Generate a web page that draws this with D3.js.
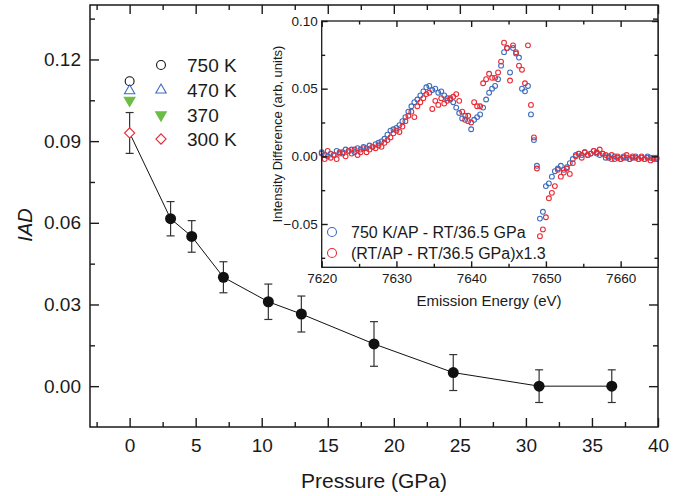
<!DOCTYPE html>
<html>
  <head>
    <meta charset="utf-8">
    <title>IAD vs pressure</title>
    <style media="screen">
      body {margin:0; background:#fff}
      text {font-family: 'Liberation Sans', Arial, sans-serif; fill:#1a1a1a}
      .axis path, .axis line {stroke:#1a1a1a}
      .axis text {fill:#1a1a1a}
    </style>
  </head>
  <body>
    <script src="https://cdn.jsdelivr.net/npm/d3@7"></script>
    <script type="text/javascript">

    // main panel: IAD against pressure (room temperature)
    const pressure = [3.1, 4.7, 7.1, 10.5, 13.0, 18.5, 24.5, 31.0, 36.5]
    const iad      = [0.0615, 0.055, 0.040, 0.031, 0.0265, 0.0155, 0.005, 0.000, 0.000]
    const iadErr   = [0.0063, 0.0058, 0.0057, 0.0065, 0.0066, 0.0082, 0.0066, 0.006, 0.006]

    // ambient pressure points at several temperatures
    const tempLabels = ['750 K', '470 K', '370', '300 K']
    const tempIAD    = [0.112, 0.1085, 0.105, 0.093]
    const ambientErr = 0.0075

    const xTicks = [0, 5, 10, 15, 20, 25, 30, 35, 40]
    const xMinor = [-2.5, 2.5, 7.5, 12.5, 17.5, 22.5, 27.5, 32.5, 37.5]
    const yTicks = [0, 0.03, 0.06, 0.09, 0.12]
    const yMinor = [0.015, 0.045, 0.075, 0.105, 0.135]

    // inset: difference spectra
    const energy = [7620, 7620.4, 7620.8, 7621.2, 7621.6, 7622, 7622.4, 7622.8, 7623.2, 7623.6,
      7624, 7624.4, 7624.8, 7625.2, 7625.6, 7626, 7626.4, 7626.8, 7627.2, 7627.6,
      7628, 7628.4, 7628.8, 7629.2, 7629.6, 7630, 7630.4, 7630.8, 7631.2, 7631.6,
      7632, 7632.4, 7632.8, 7633.2, 7633.6, 7634, 7634.4, 7634.8, 7635.2, 7635.6,
      7636, 7636.4, 7636.8, 7637.2, 7637.6, 7638, 7638.4, 7638.8, 7639.2, 7639.6,
      7640, 7640.4, 7640.8, 7641.2, 7641.6, 7642, 7642.4, 7642.8, 7643.2, 7643.6,
      7644, 7644.4, 7644.8, 7645.2, 7645.6, 7646, 7646.4, 7646.8, 7647.2, 7647.6,
      7648, 7648.4, 7648.8, 7649.2, 7649.6, 7650, 7650.4, 7650.8, 7651.2, 7651.6,
      7652, 7652.4, 7652.8, 7653.2, 7653.6, 7654, 7654.4, 7654.8, 7655.2, 7655.6,
      7656, 7656.4, 7656.8, 7657.2, 7657.6, 7658, 7658.4, 7658.8, 7659.2, 7659.6,
      7660, 7660.4, 7660.8, 7661.2, 7661.6, 7662, 7662.4, 7662.8, 7663.2, 7663.6,
      7664, 7664.4, 7664.8]

    const hotDiff = [0.003, 0.001, 0.000, 0.002, 0.001, 0.004, 0.002, 0.003, 0.005, 0.004,
      0.005, 0.003, 0.006, 0.005, 0.007, 0.006, 0.008, 0.007, 0.009, 0.010,
      0.011, 0.013, 0.016, 0.019, 0.020, 0.021, 0.023, 0.026, 0.029, 0.033,
      0.037, 0.040, 0.042, 0.045, 0.048, 0.051, 0.052, 0.049, 0.050, 0.047,
      0.048, 0.045, 0.043, 0.042, 0.040, 0.036, 0.032, 0.028, 0.030, 0.026,
      0.020, 0.027, 0.029, 0.031, 0.036, 0.042, 0.047, 0.050, 0.052, 0.057,
      0.067, 0.077, 0.080, 0.062, 0.080, 0.076, 0.073, 0.050, 0.048, 0.052,
      0.031, 0.012, -0.007, -0.046, -0.041, -0.022, -0.020, -0.015, -0.011, -0.009,
      -0.007, -0.010, -0.008, -0.005, -0.002, 0.001, 0.002, 0.001, 0.003, 0.001,
      0.002, 0.004, 0.002, 0.001, 0.002, -0.001, 0.000, -0.002, 0.000, -0.001,
      -0.002, 0.000, -0.001, -0.002, -0.001, 0.000, -0.002, -0.001, -0.002, 0.000,
      -0.001, -0.002, -0.001]

    const rtDiff = [0.002, -0.002, 0.004, -0.001, 0.001, -0.002, 0.003, 0.002, 0.000, 0.004,
      0.002, 0.005, 0.001, 0.003, 0.006, 0.003, 0.005, 0.007, 0.006, 0.008,
      0.007, 0.010, 0.012, 0.014, 0.017, 0.019, 0.018, 0.022, 0.026, 0.030,
      0.033, 0.029, 0.037, 0.040, 0.043, 0.046, 0.047, 0.035, 0.041, 0.038,
      0.043, 0.039, 0.041, 0.043, 0.044, 0.046, 0.041, 0.033, 0.027, 0.030,
      0.025, 0.040, 0.037, 0.037, 0.054, 0.057, 0.061, 0.058, 0.058, 0.062,
      0.070, 0.084, 0.080, 0.056, 0.082, 0.077, 0.067, 0.064, 0.054, 0.082,
      0.038, 0.014, -0.009, -0.059, -0.054, -0.045, -0.031, -0.027, -0.022, -0.010,
      -0.015, -0.012, -0.009, -0.013, -0.005, 0.000, 0.002, -0.001, 0.003, 0.001,
      0.002, 0.004, 0.003, 0.005, 0.002, 0.001, -0.001, 0.001, -0.002, 0.000,
      -0.002, -0.001, 0.001, -0.002, 0.000, -0.001, -0.002, 0.000, -0.002, -0.001,
      -0.003, -0.001, -0.002]

    const insetLabels = ['750 K/AP - RT/36.5 GPa', '(RT/AP - RT/36.5 GPa)x1.3']
    const insetXTicks = [7620, 7630, 7640, 7650, 7660]
    const insetXMinor = [7625, 7635, 7645, 7655]
    const insetYTicks = [-0.05, 0, 0.05, 0.10]
    const insetYMinor = [-0.075, -0.025, 0.025, 0.075]

    const blue = '#3c6cbf', red = '#ea2a33', green = '#6bbd45'

    const svg = d3.select('body').append('svg')
      .attr('width', 685)
      .attr('height', 496)

    const x = d3.scaleLinear().domain([-3, 40]).range([90, 658])
    const y = d3.scaleLinear().domain([-0.015, 0.14]).range([427, 5])

    // axes, ticks point inward on all four sides
    function frame (xs, ys, major, minor, xt, xm, yt, ym, xfmt, yfmt, fs, pad) {
      const [x0, x1] = xs.range(), [y0, y1] = ys.range()
      const g = svg.append('g').attr('class', 'axis')
      const bottom = g.append('g').attr('transform', `translate(0,${y0})`)
      bottom.call(d3.axisBottom(xs).tickValues(xt).tickSize(-major).tickSizeOuter(0).tickPadding(pad[0]).tickFormat(xfmt))
      bottom.append('g').call(d3.axisBottom(xs).tickValues(xm).tickSize(-minor).tickFormat(''))
      const top = g.append('g').attr('transform', `translate(0,${y1})`)
      top.call(d3.axisTop(xs).tickValues(xt).tickSize(-major).tickSizeOuter(0).tickFormat(''))
      top.append('g').call(d3.axisTop(xs).tickValues(xm).tickSize(-minor).tickFormat(''))
      const left = g.append('g').attr('transform', `translate(${x0},0)`)
      left.call(d3.axisLeft(ys).tickValues(yt).tickSize(-major).tickSizeOuter(0).tickPadding(pad[1]).tickFormat(yfmt))
      left.append('g').call(d3.axisLeft(ys).tickValues(ym).tickSize(-minor).tickFormat(''))
      const right = g.append('g').attr('transform', `translate(${x1},0)`)
      right.call(d3.axisRight(ys).tickValues(yt).tickSize(-major).tickSizeOuter(0).tickFormat(''))
      right.append('g').call(d3.axisRight(ys).tickValues(ym).tickSize(-minor).tickFormat(''))
      g.selectAll('text').attr('font-size', fs).attr('font-family', "'Liberation Sans', Arial, sans-serif")
      g.selectAll('.domain').remove()
      g.append('rect')
        .attr('x', x0).attr('y', y1).attr('width', x1 - x0).attr('height', y0 - y1)
        .attr('fill', 'none').attr('stroke', '#1a1a1a').attr('stroke-width', 1.5)
      g.selectAll('line').attr('stroke-width', 1.4)
      return g
    }

    frame(x, y, 9, 5, xTicks, xMinor, yTicks, yMinor, d3.format('d'), d3.format('.2f'), 19, [12, 9])

    // error bars
    const errData = [[0, tempIAD[3], ambientErr]].concat(pressure.map((p, i) => [p, iad[i], iadErr[i]]))
    const eb = svg.append('g').attr('stroke', '#333').attr('stroke-width', 1.2)
    errData.forEach(d => {
      const cx = x(d[0]), ya = y(d[1] + d[2]), yb = y(d[1] - d[2])
      eb.append('line').attr('x1', cx).attr('x2', cx).attr('y1', ya).attr('y2', yb)
      eb.append('line').attr('x1', cx - 4).attr('x2', cx + 4).attr('y1', ya).attr('y2', ya)
      eb.append('line').attr('x1', cx - 4).attr('x2', cx + 4).attr('y1', yb).attr('y2', yb)
    })

    const line = d3.line().x(d => x(d[0])).y(d => y(d[1]))
    svg.append('path')
      .attr('d', line(errData))
      .attr('fill', 'none').attr('stroke', '#111').attr('stroke-width', 1)

    svg.append('g').selectAll('circle')
      .data(pressure.map((p, i) => [p, iad[i]]))
      .join('circle')
      .attr('cx', d => x(d[0])).attr('cy', d => y(d[1])).attr('r', 5.5)
      .attr('fill', '#111')

    // temperature symbols (open circle, triangle, filled down triangle, diamond)
    const sym = [
      {type: d3.symbolCircle, size: 62, rot: 0, fill: '#fff', stroke: '#111'},
      {type: d3.symbolTriangle, size: 46, rot: 0, fill: '#fff', stroke: blue},
      {type: d3.symbolTriangle, size: 50, rot: 180, fill: green, stroke: green},
      {type: d3.symbolSquare, size: 52, rot: 45, fill: '#fff', stroke: red}
    ]
    function drawSym (g, i, cx, cy) {
      g.append('path')
        .attr('d', d3.symbol().type(sym[i].type).size(sym[i].size)())
        .attr('transform', `translate(${cx},${cy}) rotate(${sym[i].rot})`)
        .attr('fill', sym[i].fill).attr('stroke', sym[i].stroke).attr('stroke-width', 1.1)
    }
    const amb = svg.append('g')
    tempIAD.forEach((v, i) => drawSym(amb, i, x(0), y(v)))

    const leg = svg.append('g')
    const legY = [65, 90, 115, 139]
    tempLabels.forEach((t, i) => {
      drawSym(leg, i, 161, legY[i])
      leg.append('text').attr('x', 187).attr('y', legY[i]).attr('dy', '0.36em')
        .attr('font-size', 19).text(t)
    })

    svg.append('text')
      .attr('x', 374).attr('y', 488).attr('text-anchor', 'middle')
      .attr('font-size', 21).text('Pressure (GPa)')
    svg.append('text')
      .attr('transform', 'translate(32,225) rotate(-90)').attr('text-anchor', 'middle')
      .attr('font-size', 20).attr('font-style', 'italic').text('IAD')

    // inset
    const ix = d3.scaleLinear().domain([7620, 7665]).range([321.7, 658])
    const iy = d3.scaleLinear().domain([-0.082, 0.10]).range([267.3, 21])

    svg.append('rect')
      .attr('x', 321.7).attr('y', 21).attr('width', 658 - 321.7).attr('height', 267.3 - 21)
      .attr('fill', '#fff')

    const pts = svg.append('g').attr('fill', 'none').attr('stroke-width', 1.1)
    pts.selectAll('.hot').data(energy).join('circle').attr('class', 'hot')
      .attr('cx', d => ix(d)).attr('cy', (d, i) => iy(hotDiff[i])).attr('r', 2.4)
      .attr('stroke', blue)
    pts.selectAll('.rt').data(energy).join('circle').attr('class', 'rt')
      .attr('cx', d => ix(d)).attr('cy', (d, i) => iy(rtDiff[i])).attr('r', 2.4)
      .attr('stroke', red)

    frame(ix, iy, 6, 3.5, insetXTicks, insetXMinor, insetYTicks, insetYMinor, d3.format('d'), d3.format('.2f'), 13.5, [6, 4])
      .selectAll('rect').attr('stroke-width', 1.3)

    const il = svg.append('g')
    insetLabels.forEach((t, i) => {
      const cy = 232 + i * 21
      il.append('circle').attr('cx', 332).attr('cy', cy).attr('r', 4.5)
        .attr('fill', 'none').attr('stroke', i ? red : blue).attr('stroke-width', 1.1)
      il.append('text').attr('x', 351).attr('y', cy).attr('dy', '0.36em')
        .attr('font-size', 16).text(t)
    })

    svg.append('text')
      .attr('x', 489).attr('y', 306).attr('text-anchor', 'middle')
      .attr('font-size', 15).text('Emission Energy (eV)')
    svg.append('text')
      .attr('transform', 'translate(282,134) rotate(-90)').attr('text-anchor', 'middle')
      .attr('font-size', 13).text('Intensity Difference (arb, units)')

    </script>
  </body>
</html>
